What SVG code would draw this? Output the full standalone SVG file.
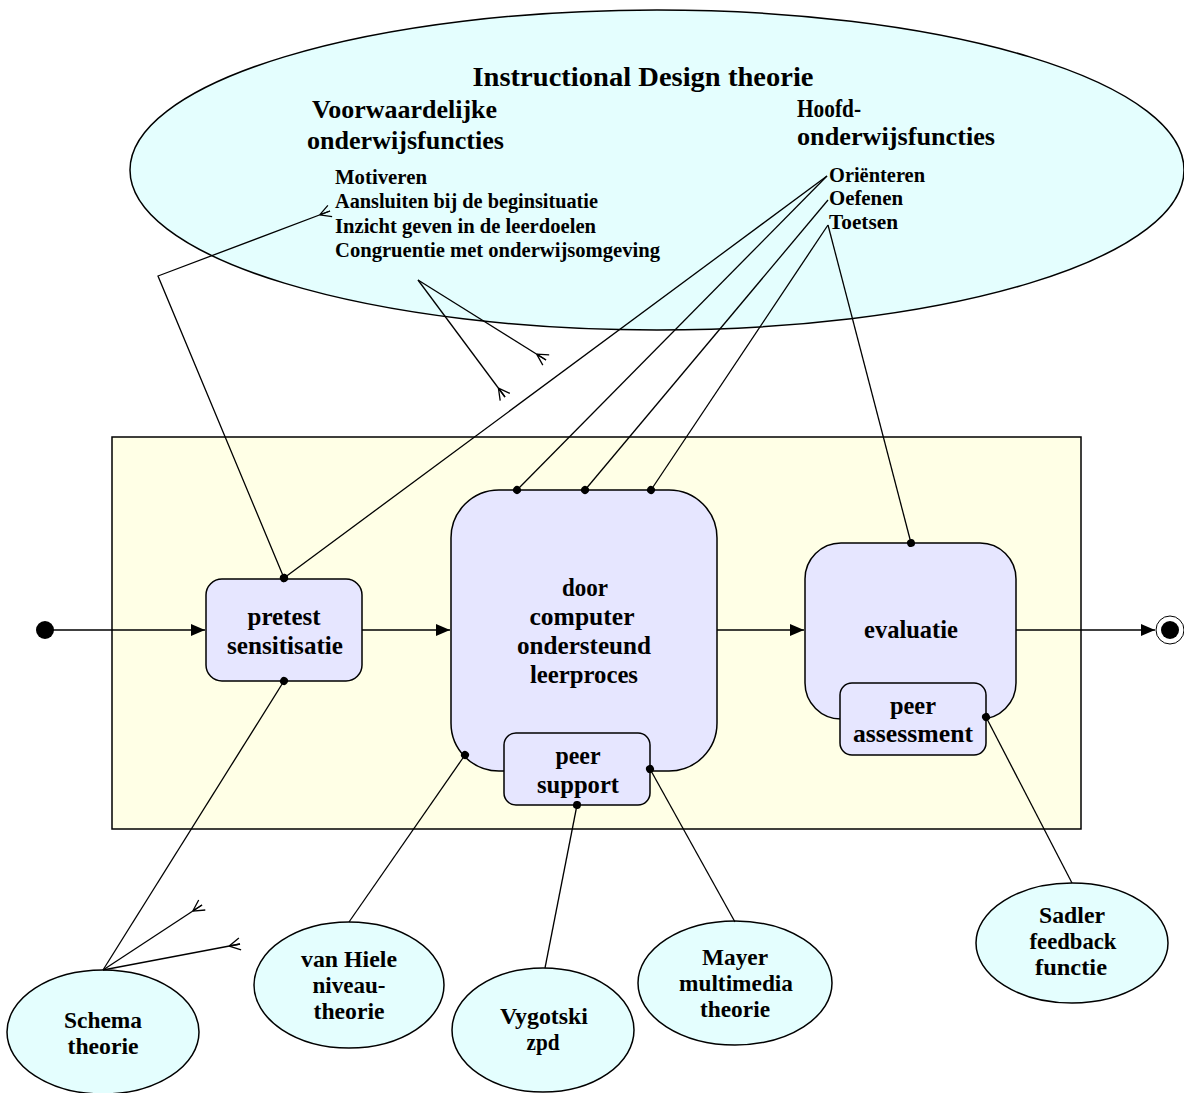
<svg xmlns="http://www.w3.org/2000/svg" width="1184" height="1093" viewBox="0 0 1184 1093">
<style>
  text { font-family: "Liberation Serif", "Times New Roman", serif; font-weight: bold; fill: #000; }
  .title { font-size: 28px; text-anchor: middle; }
  .head { font-size: 26px; }
  .item { font-size: 20px; }
  .node { font-size: 25px; text-anchor: middle; }
  .theo { font-size: 23px; text-anchor: middle; }
  .ell { fill: #e4fefe; stroke: #000; stroke-width: 1.5; }
  .act { fill: #e6e6ff; stroke: #000; stroke-width: 1.5; }
  .conn { fill: none; stroke: #000; stroke-width: 1.3; }
</style>
<defs>
  <marker id="arrow" markerUnits="userSpaceOnUse" markerWidth="16" markerHeight="14" refX="14" refY="7" orient="auto">
    <path d="M0,1 L14,7 L0,13 Z" fill="#000"/>
  </marker>
  <marker id="crow" markerUnits="userSpaceOnUse" markerWidth="16" markerHeight="16" refX="13" refY="8" orient="auto" overflow="visible">
    <path d="M2,8 L13,2 M2,8 L13,8 M2,8 L13,14" fill="none" stroke="#000" stroke-width="1.3"/>
  </marker>
  <marker id="dot" markerUnits="userSpaceOnUse" markerWidth="10" markerHeight="10" refX="5" refY="5" orient="auto">
    <circle cx="5" cy="5" r="4" fill="#000"/>
  </marker>
</defs>

<g id="id-theorie">
  <ellipse class="ell" cx="657" cy="170" rx="527" ry="160"/>
  <text class="title" x="643" y="86" textLength="341" lengthAdjust="spacingAndGlyphs">Instructional Design theorie</text>
  <text class="head" x="312" y="118" textLength="185" lengthAdjust="spacingAndGlyphs">Voorwaardelijke</text>
  <text class="head" x="307" y="149" textLength="197" lengthAdjust="spacingAndGlyphs">onderwijsfuncties</text>
  <text class="item" x="335" y="184" textLength="92" lengthAdjust="spacingAndGlyphs">Motiveren</text>
  <text class="item" x="335" y="208" textLength="263" lengthAdjust="spacingAndGlyphs">Aansluiten bij de beginsituatie</text>
  <text class="item" x="335" y="233" textLength="261" lengthAdjust="spacingAndGlyphs">Inzicht geven in de leerdoelen</text>
  <text class="item" x="335" y="257" textLength="325" lengthAdjust="spacingAndGlyphs">Congruentie met onderwijsomgeving</text>
  <text class="head" x="797" y="117" textLength="64" lengthAdjust="spacingAndGlyphs">Hoofd-</text>
  <text class="head" x="797" y="145" textLength="198" lengthAdjust="spacingAndGlyphs">onderwijsfuncties</text>
  <text class="item" x="829" y="182" textLength="96" lengthAdjust="spacingAndGlyphs">Oriënteren</text>
  <text class="item" x="829" y="205" textLength="74" lengthAdjust="spacingAndGlyphs">Oefenen</text>
  <text class="item" x="829" y="229" textLength="69" lengthAdjust="spacingAndGlyphs">Toetsen</text>
</g>

<g id="activity-frame">
  <rect x="112" y="437" width="969" height="392" fill="#ffffe6" stroke="#000" stroke-width="1.5"/>
</g>

<g id="start">
  <circle cx="45" cy="630" r="9" fill="#000"/>
</g>

<g id="pretest">
  <rect class="act" x="206" y="579" width="156" height="102" rx="16"/>
  <text class="node" x="284" y="625" textLength="73" lengthAdjust="spacingAndGlyphs">pretest</text>
  <text class="node" x="285" y="654" textLength="116" lengthAdjust="spacingAndGlyphs">sensitisatie</text>
</g>

<g id="leerproces">
  <rect class="act" x="451" y="490" width="266" height="281" rx="48"/>
  <text class="node" x="585" y="596" textLength="46" lengthAdjust="spacingAndGlyphs">door</text>
  <text class="node" x="582" y="625" textLength="105" lengthAdjust="spacingAndGlyphs">computer</text>
  <text class="node" x="584" y="654" textLength="134" lengthAdjust="spacingAndGlyphs">ondersteund</text>
  <text class="node" x="584" y="683" textLength="108" lengthAdjust="spacingAndGlyphs">leerproces</text>
</g>

<g id="peer-support">
  <rect class="act" x="504" y="733" width="146" height="72" rx="12"/>
  <text class="node" x="578" y="764" textLength="45" lengthAdjust="spacingAndGlyphs">peer</text>
  <text class="node" x="578" y="793" textLength="82" lengthAdjust="spacingAndGlyphs">support</text>
</g>

<g id="evaluatie">
  <rect class="act" x="805" y="543" width="211" height="176" rx="36"/>
  <text class="node" x="911" y="638" textLength="94" lengthAdjust="spacingAndGlyphs">evaluatie</text>
</g>

<g id="peer-assessment">
  <rect class="act" x="840" y="683" width="146" height="72" rx="12"/>
  <text class="node" x="913" y="714" textLength="46" lengthAdjust="spacingAndGlyphs">peer</text>
  <text class="node" x="913" y="742" textLength="120" lengthAdjust="spacingAndGlyphs">assessment</text>
</g>

<g id="end">
  <circle cx="1170" cy="630" r="14" fill="#fff" stroke="#000" stroke-width="1"/>
  <circle cx="1170" cy="630" r="9" fill="#000"/>
</g>

<g id="schema">
  <ellipse class="ell" cx="103" cy="1032" rx="96" ry="62"/>
  <text class="theo" x="103" y="1028" textLength="78" lengthAdjust="spacingAndGlyphs">Schema</text>
  <text class="theo" x="103" y="1054" textLength="71" lengthAdjust="spacingAndGlyphs">theorie</text>
</g>

<g id="vanhiele">
  <ellipse class="ell" cx="349" cy="985" rx="95" ry="63"/>
  <text class="theo" x="349" y="967" textLength="96" lengthAdjust="spacingAndGlyphs">van Hiele</text>
  <text class="theo" x="349" y="993" textLength="73" lengthAdjust="spacingAndGlyphs">niveau-</text>
  <text class="theo" x="349" y="1019" textLength="71" lengthAdjust="spacingAndGlyphs">theorie</text>
</g>

<g id="vygotski">
  <ellipse class="ell" cx="543" cy="1030" rx="91" ry="62"/>
  <text class="theo" x="544" y="1024" textLength="88" lengthAdjust="spacingAndGlyphs">Vygotski</text>
  <text class="theo" x="543" y="1050" textLength="33" lengthAdjust="spacingAndGlyphs">zpd</text>
</g>

<g id="mayer">
  <ellipse class="ell" cx="735" cy="983" rx="97" ry="62"/>
  <text class="theo" x="735" y="965" textLength="66" lengthAdjust="spacingAndGlyphs">Mayer</text>
  <text class="theo" x="736" y="991" textLength="114" lengthAdjust="spacingAndGlyphs">multimedia</text>
  <text class="theo" x="735" y="1017" textLength="70" lengthAdjust="spacingAndGlyphs">theorie</text>
</g>

<g id="sadler">
  <ellipse class="ell" cx="1072" cy="943" rx="96" ry="60"/>
  <text class="theo" x="1072" y="923" textLength="66" lengthAdjust="spacingAndGlyphs">Sadler</text>
  <text class="theo" x="1073" y="949" textLength="87" lengthAdjust="spacingAndGlyphs">feedback</text>
  <text class="theo" x="1071" y="975" textLength="72" lengthAdjust="spacingAndGlyphs">functie</text>
</g>

<g id="connectors">
  <!-- flow -->
  <line class="conn" x1="45" y1="630" x2="205" y2="630" marker-end="url(#arrow)"/>
  <line class="conn" x1="362" y1="630" x2="450" y2="630" marker-end="url(#arrow)"/>
  <line class="conn" x1="717" y1="630" x2="804" y2="630" marker-end="url(#arrow)"/>
  <line class="conn" x1="1016" y1="630" x2="1155" y2="630" marker-end="url(#arrow)"/>
  <!-- ID theorie links -->
  <polyline class="conn" points="284,578 158,276 330,211" marker-start="url(#dot)" marker-end="url(#crow)"/>
  <polyline class="conn" points="284,578 827,176" marker-start="url(#dot)"/>
  <polyline class="conn" points="517,490 827,176" marker-start="url(#dot)"/>
  <polyline class="conn" points="585,490 828,200" marker-start="url(#dot)"/>
  <polyline class="conn" points="651,490 828,225" marker-start="url(#dot)"/>
  <polyline class="conn" points="911,543 828,225" marker-start="url(#dot)"/>
  <line class="conn" x1="418" y1="280" x2="546" y2="360" marker-end="url(#crow)"/>
  <line class="conn" x1="418" y1="280" x2="505" y2="397" marker-end="url(#crow)"/>
  <!-- theories -->
  <line class="conn" x1="284" y1="681" x2="103" y2="970" marker-start="url(#dot)"/>
  <line class="conn" x1="103" y1="970" x2="202" y2="905" marker-end="url(#crow)"/>
  <line class="conn" x1="103" y1="970" x2="240" y2="944" marker-end="url(#crow)"/>
  <line class="conn" x1="465" y1="755" x2="349" y2="922" marker-start="url(#dot)"/>
  <line class="conn" x1="577" y1="805" x2="545" y2="968" marker-start="url(#dot)"/>
  <line class="conn" x1="650" y1="769" x2="735" y2="922" marker-start="url(#dot)"/>
  <line class="conn" x1="986" y1="717" x2="1072" y2="883" marker-start="url(#dot)"/>
</g>
</svg>
